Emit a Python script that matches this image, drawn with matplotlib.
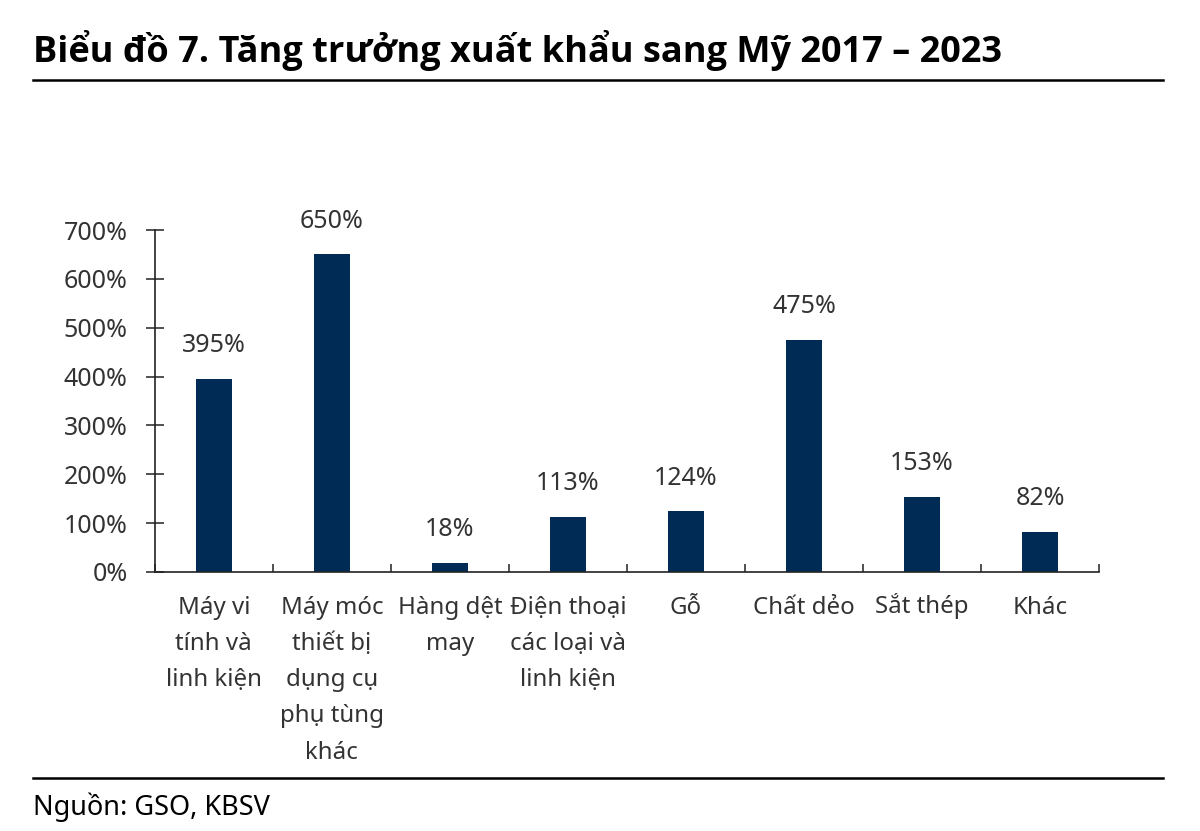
import matplotlib.pyplot as plt
from matplotlib.lines import Line2D
from matplotlib.ticker import FixedLocator, PercentFormatter
from matplotlib.transforms import ScaledTranslation

plt.rcParams["font.family"] = ["Noto Sans", "DejaVu Sans"]

categories = [
    "Máy vi\ntính và\nlinh kiện",
    "Máy móc\nthiết bị\ndụng cụ\nphụ tùng\nkhác",
    "Hàng dệt\nmay",
    "Điện thoại\ncác loại và\nlinh kiện",
    "Gỗ",
    "Chất dẻo",
    "Sắt thép",
    "Khác",
]
growth = [395, 650, 18, 113, 124, 475, 153, 82]
yticks = [0, 100, 200, 300, 400, 500, 600, 700]

bar_color = "#002b55"
text_color = "#333333"
axis_color = "#222222"

fig = plt.figure(figsize=(12, 8.31), dpi=100)
ax = fig.add_axes([0.129, 0.3117, 0.787, 0.4115])

x = list(range(len(categories)))
ax.bar(x, growth, width=0.31, color=bar_color)
for xi, v in zip(x, growth):
    ax.annotate(f"{v}%", (xi, v), xytext=(0, 15), textcoords="offset points",
                ha="center", va="bottom", fontsize=18, color=text_color)

ax.set_xlim(-0.5, len(categories) - 0.5)
ax.set_ylim(0, 700)
ax.set_yticks(yticks)
ax.yaxis.set_major_formatter(PercentFormatter(decimals=0))
ax.set_xticks(x)
ax.set_xticklabels(categories, fontsize=17.3, color=text_color, linespacing=1.68,
                   va="top")
ax.xaxis.set_minor_locator(FixedLocator([i - 0.5 for i in range(len(categories) + 1)]))
ax.tick_params(axis="x", which="major", length=0, pad=17)
ax.tick_params(axis="x", which="minor", direction="in", length=6, width=1.1, color=axis_color)
ax.tick_params(axis="y", direction="inout", length=13, width=1.1, color=axis_color,
               labelsize=18, labelcolor=text_color, pad=13)

# stacked accent on "Sắt" makes that label sit lower; nudge it back up
for lab in ax.get_xticklabels():
    if lab.get_text().startswith("Sắt"):
        lab.set_transform(lab.get_transform() + ScaledTranslation(0, 2 / 72, fig.dpi_scale_trans))

for side in ["top", "right"]:
    ax.spines[side].set_visible(False)
for side in ["left", "bottom"]:
    ax.spines[side].set_linewidth(1.2)
    ax.spines[side].set_color(axis_color)

fig.text(0.0275, 0.925, "Biểu đồ 7. Tăng trưởng xuất khẩu sang Mỹ 2017 – 2023",
         fontsize=26, fontweight="bold", family=["Open Sans", "DejaVu Sans"],
         color="black", va="baseline", ha="left")
fig.add_artist(Line2D([0.0275, 0.969], [0.904, 0.904], color="black", lw=1.8))
fig.add_artist(Line2D([0.0275, 0.969], [0.0638, 0.0638], color="black", lw=1.8))
fig.text(0.0275, 0.019, "Nguồn: GSO, KBSV", fontsize=19.5, color="black",
         va="baseline", ha="left")

fig.savefig("out.png", dpi=100, facecolor="white")
